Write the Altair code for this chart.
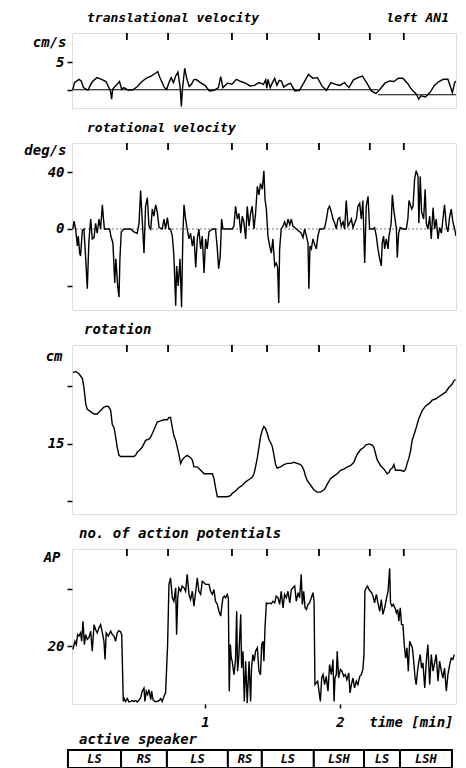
import altair as alt
import pandas as pd

FONT = "DejaVu Sans Mono"
W = 384
XDOM = [0.015, 2.86]  # minutes

# ---- data (time in seconds) ----
change_s = [25.3, 43.6, 72.0, 87.6, 110.7, 133.3, 148.4]

speaker_start = [-0.9, 22.7, 43.1, 70.2, 85.3, 108.4, 130.7, 146.7]
speaker_end = [22.7, 43.1, 70.2, 85.3, 108.4, 130.7, 146.7, 169.8]
speaker_label = ["LS", "RS", "LS", "RS", "LS", "LSH", "LS", "LSH"]

trans_time = [1.3, 2, 4, 5, 6, 8, 9, 10, 12, 14, 16, 18, 18.5, 19, 20, 21, 22, 23, 24, 26, 28, 30, 32, 34, 36, 38, 39, 40,
              42, 43, 44, 45, 46, 47, 48, 49, 49.5, 50, 51, 52, 53, 54, 55, 56, 58, 60, 62, 64, 66, 67, 68, 70, 72, 74,
              76, 78, 80, 82, 84, 86, 87, 87.5, 88, 89, 90, 91, 92, 93, 94, 95, 96, 98, 100, 102, 104, 106, 108, 110,
              112, 114, 116, 118, 120, 122, 124, 126, 128, 130, 132, 134, 136, 138, 140, 142, 144, 146, 148, 150, 152,
              154, 155, 156, 158, 160, 162, 164, 166, 168, 170, 171, 171.6]
trans_value = [0.1, 1.3, 1.9, 1.6, 0.4, -0.1, 0.8, 1.5, 2.2, 1.9, 1.5, -0.2, -1.7, 0.1, 0.6, 1.0, 1.5, 0.1, 0.4, -0.1,
               0.0, 0.6, 1.5, 2.1, 2.5, 3.0, 3.3, 2.2, 0.4, 0.1, 1.3, 2.2, 1.3, 2.5, 3.2, 0.4, -3.0, 0.1, 3.9, 1.9, 0.6,
               1.0, 1.8, 1.9, 1.3, 0.8, -0.2, -0.1, 0.4, 2.4, 0.4, 1.2, 1.0, 1.9, 1.5, 1.2, 0.7, 0.8, 1.3, 1.0, 1.8,
               0.3, 1.9, 0.4, 1.3, 2.1, 0.8, 1.7, 1.6, 0.5, 0.8, 1.2, -0.2, -0.1, 1.3, 2.8, 2.1, 2.2, 0.7, -0.1, 1.3,
               1.0, 0.8, 1.3, 0.4, 1.8, 2.2, 2.5, 1.2, -0.2, -0.7, 0.2, 1.2, 1.6, 1.5, 2.1, 2.1, 1.2, 0.0, -0.8, -1.7,
               -1.1, -1.3, -0.5, 0.8, 1.5, 1.9, 1.9, -0.5, 1.3, 1.6]
trans_base_start = [0.9, 137.0]
trans_base_end = [137.0, 171.6]
trans_base_value = [0.0, -0.9]

rotvel_time = [1.3, 1.8, 2.5, 3.3, 3.7, 4.3, 4.7, 5.5, 6.2, 7.0, 7.7, 8.4, 9.2, 9.9, 10.7, 11.4, 12.1, 12.9, 13.6, 14.4,
               14.8, 15.3, 16.6, 17.6, 18.2, 19.1, 19.9, 20.4, 21.2, 21.8, 22.2, 22.8, 24.0, 25.5, 27.0, 28.4, 29.9,
               30.7, 31.4, 32.1, 32.9, 33.6, 34.4, 35.1, 35.9, 36.6, 37.3, 38.1, 38.8, 39.6, 41.0, 41.8, 42.5, 43.3,
               44.0, 44.7, 45.5, 46.2, 47.0, 47.4, 48.1, 48.9, 49.6, 50.2, 50.7, 51.4, 52.1, 52.9, 53.6, 54.4, 55.1,
               55.9, 56.6, 57.3, 58.1, 58.8, 59.6, 60.3, 61.0, 61.8, 63.3, 64.7, 65.5, 66.1, 66.8, 67.4, 68.0, 69.9,
               72.1, 72.9, 73.6, 74.4, 75.1, 75.9, 76.6, 77.3, 78.1, 78.8, 79.6, 80.3, 81.0, 81.8, 82.5, 83.3, 84.0,
               84.7, 85.5, 86.2, 86.7, 87.3, 88.0, 88.8, 89.5, 90.2, 91.0, 91.7, 92.3, 92.8, 93.2, 93.9, 94.7, 95.4,
               96.2, 96.9, 97.7, 98.4, 99.1, 99.9, 100.6, 102.1, 102.8, 103.6, 104.3, 105.1, 105.8, 106.2, 106.7,
               107.3, 108.0, 108.8, 109.5, 110.2, 111.0, 112.5, 113.2, 114.0, 114.7, 115.4, 116.2, 116.9, 117.7,
               118.4, 119.1, 119.9, 120.6, 121.4, 122.1, 122.8, 123.6, 124.3, 125.1, 125.8, 126.5, 127.3, 128.0,
               128.8, 129.5, 130.2, 131.0, 131.7, 132.5, 133.2, 134.7, 135.4, 136.2, 136.9, 137.7, 138.4, 138.8,
               139.4, 139.9, 140.6, 141.4, 141.8, 142.4, 142.8, 143.3, 143.9, 144.5, 145.1, 145.5, 146.1, 146.8,
               148.0, 149.5, 150.2, 150.7, 151.3, 151.9, 152.5, 153.2, 153.9, 154.7, 155.1, 155.7, 156.3, 157.2,
               157.9, 158.4, 159.1, 159.9, 160.6, 161.4, 162.1, 162.8, 163.6, 164.3, 165.1, 165.8, 166.5, 167.3,
               168.0, 168.8, 169.5, 170.2, 171.0, 171.6]
rotvel_value = [0, 5.5, 0, -12, -5, -17, -19, -1, 0, -21, -42, -9, 7, -7, -6, 4, -3, 7, 0, 17,
                9, 0, 0, 0, -5, -10, -38, -21, -40, -48, -21, -2, 0, 0, 0, -2, -3,
                4, 27, 7, -17, 16, 22, 2, 0, 14, 9, 17, 12, 1, 0, 7, 0, 8,
                0, 0, -5, -19, -54, -26, -40, -21, -55, -3, 17, 7, 0, -7, -3, -12, -5,
                -27, -7, 0, -14, -5, -31, -7, -14, -2, 0, 0, -14, -28, -19, 7, 0, 0,
                0, 2, 16, 7, 11, -3, 9, 5, -7, 16, 2, 11, 16, 0, 11, 30, 24,
                32, 28, 41, 21, 14, -5, -12, -17, -7, -26, -24, -27, -52, -14, 0, 2, 5,
                1, 7, 3, 7, 2, 1, 0, -2, -3, -6, 0, -5, -10, -42, -12,
                -14, -7, -11, -14, -5, 0, 0, 1, 7, 14, 16, 12, 7, 4,
                0, 7, 8, 2, 5, 0, 20, 2, 4, 7, 1, 4, 7, 16,
                18, 7, 20, -24, 16, 23, 0, 0, 1, -5, -14, -21, -26, -10,
                -5, -14, -7, -14, -5, 0, 5, 24, 14, 7, 0, -20, -3, 1,
                0, 0, 7, 20, 17, 14, 16, 35, 41, 37, 4, 37, 12, 7,
                28, 4, 0, 9, -7, 15, 0, 7, -7, 1, -3, 7, 17, 2,
                -2, 9, 14, 5, 0, -5]

rot_time = [1.3, 2.5, 4.0, 5.5, 6.2, 7.0, 7.7, 9.2, 10.7, 12.1, 13.6, 15.1, 16.6, 17.3, 18.1, 18.8, 19.6, 20.3, 21.0,
            21.8, 22.5, 25.5, 28.4, 29.2, 29.9, 30.7, 32.1, 33.6, 35.1, 35.9, 37.3, 38.8, 40.3, 41.8, 43.3, 44.0,
            44.7, 45.5, 46.2, 47.0, 47.7, 48.4, 49.2, 49.9, 50.7, 52.1, 53.6, 54.4, 55.1, 56.6, 58.1, 59.6, 61.8,
            63.3, 64.0, 64.7, 65.5, 67.0, 69.9, 71.4, 72.1, 73.6, 75.1, 76.6, 78.1, 79.6, 81.0, 81.8, 82.5, 83.3,
            84.0, 84.7, 85.5, 86.2, 87.0, 87.7, 88.4, 89.2, 89.9, 90.7, 91.4, 92.1, 93.6, 95.1, 96.6, 98.1, 99.6,
            101.0, 102.5, 103.3, 104.0, 104.7, 105.5, 107.0, 108.4, 109.9, 111.4, 112.9, 113.6, 114.4, 115.9,
            117.3, 118.8, 120.3, 121.8, 123.3, 124.7, 126.2, 127.0, 127.7, 129.2, 129.9, 130.7, 131.4, 132.9,
            134.4, 135.1, 135.9, 136.6, 138.1, 139.6, 141.0, 141.8, 142.5, 143.3, 144.0, 144.7, 145.5, 147.0,
            148.4, 149.2, 149.9, 150.7, 151.4, 152.1, 153.6, 155.1, 156.6, 158.1, 159.6, 161.0, 162.5, 164.0,
            165.5, 167.0, 168.4, 169.9, 170.7, 171.4]
rot_value = [21.2, 21.3, 21.1, 20.7, 19.9, 18.5, 18.0, 17.8, 17.6, 17.6, 17.9, 18.2, 18.3, 18.2, 17.9, 16.7, 16.4,
             15.6, 14.7, 14.0, 13.9, 13.9, 13.9, 14.0, 14.3, 14.4, 14.7, 15.3, 15.4, 15.6, 16.2, 16.9, 17.0, 17.1,
             17.1, 17.3, 17.3, 16.4, 15.7, 15.3, 14.7, 14.1, 13.3, 13.6, 13.8, 14.0, 13.8, 13.6, 13.0, 13.0, 12.7,
             12.4, 12.4, 12.4, 12.0, 11.2, 10.4, 10.4, 10.4, 10.5, 10.7, 10.9, 11.2, 11.4, 11.7, 11.9, 12.1, 12.4,
             13.0, 13.8, 14.7, 15.6, 16.2, 16.5, 16.3, 15.9, 15.4, 15.1, 14.8, 14.0, 13.2, 12.9, 13.0, 13.2, 13.3,
             13.3, 13.4, 13.3, 13.2, 13.0, 12.7, 12.2, 11.8, 11.4, 11.0, 10.8, 10.8, 11.0, 11.2, 11.5, 12.0, 12.2,
             12.4, 12.7, 12.8, 13.0, 13.1, 13.4, 13.8, 14.1, 14.5, 14.6, 14.7, 14.9, 15.0, 14.9, 14.7, 14.1, 13.6,
             13.1, 12.8, 12.4, 12.5, 12.8, 12.9, 13.2, 12.7, 12.7, 12.7, 12.6, 12.8, 13.3, 13.8, 14.4, 15.3, 16.2,
             17.2, 17.9, 18.3, 18.5, 18.8, 18.9, 19.1, 19.3, 19.5, 19.9, 20.2, 20.5, 20.6]

ap_time = [1.3, 2.2, 2.8, 3.4, 4.0, 4.7, 5.2, 5.8, 6.4, 7.0, 7.7, 8.4, 9.2, 9.9, 10.7, 11.4, 12.1, 12.9, 13.6, 14.4,
           15.1, 15.6, 16.1, 17.0, 18.1, 18.8, 19.6, 20.3, 21.0, 21.8, 22.5, 23.0, 23.7, 24.0, 24.7, 25.5, 26.2,
           27.0, 27.7, 28.4, 29.2, 29.9, 30.7, 31.4, 32.1, 32.9, 33.3, 33.9, 34.5, 35.1, 35.9, 36.3, 36.9, 37.8,
           38.8, 39.6, 40.3, 41.0, 41.8, 42.5, 43.4, 44.0, 44.7, 45.5, 46.2, 47.0, 47.4, 47.9, 48.4, 49.2, 49.9,
           50.7, 51.4, 52.1, 52.9, 53.6, 54.4, 55.1, 55.9, 56.6, 57.3, 58.1, 58.8, 59.6, 60.3, 61.8, 62.5, 63.3,
           64.0, 64.7, 65.5, 66.2, 67.0, 67.4, 68.0, 68.6, 69.2, 69.9, 70.4, 70.8, 71.3, 71.7, 72.1, 72.9, 73.6,
           74.1, 74.5, 75.1, 75.9, 76.3, 76.9, 77.5, 78.1, 78.8, 79.6, 80.3, 80.7, 81.3, 81.9, 82.5, 83.3, 84.0,
           84.7, 85.2, 85.8, 86.2, 86.7, 87.3, 88.0, 88.8, 89.5, 90.2, 91.0, 91.7, 92.5, 93.2, 93.9, 94.7, 95.4,
           96.2, 96.9, 97.7, 98.4, 99.1, 99.9, 100.6, 101.4, 102.1, 102.8, 103.3, 103.9, 104.5, 105.1, 105.8,
           106.5, 107.3, 108.0, 108.5, 108.9, 109.5, 110.1, 110.7, 111.3, 111.9, 112.5, 113.2, 113.9, 114.7,
           115.4, 116.2, 116.9, 117.4, 117.8, 118.4, 118.8, 119.4, 120.2, 120.9, 121.7, 122.4, 123.1, 123.9,
           124.5, 125.1, 125.8, 126.5, 127.3, 128.0, 128.8, 129.5, 130.2, 130.7, 131.1, 131.7, 132.3, 132.9,
           133.5, 134.1, 134.7, 135.4, 136.2, 136.9, 137.7, 138.4, 139.1, 139.9, 140.6, 141.4, 142.1, 142.5,
           143.1, 143.7, 144.5, 145.1, 145.7, 146.2, 146.8, 147.4, 148.0, 148.6, 149.2, 149.8, 150.4, 151.0,
           151.6, 152.2, 152.8, 153.4, 153.9, 154.5, 155.1, 155.7, 156.3, 156.9, 157.7, 158.4, 159.1, 159.9,
           160.6, 161.4, 162.1, 162.8, 163.6, 164.3, 165.1, 165.8, 166.5, 167.3, 168.0, 168.8, 169.5, 170.2,
           170.8]
ap_value = [18.8, 21.7, 20.5, 24.0, 23.5, 24.6, 21.7, 28.7, 20.5, 24.0, 22.3, 22.9, 25.2, 18.2, 27.5, 25.8, 24.6,
            26.4, 27.5, 24.6, 21.7, 15.3, 24.6, 23.5, 25.2, 24.0, 23.5, 21.7, 24.6, 25.4, 25.0, 24.0, 0.6, 1.8,
            0.6, 1.6, 0.4, 0.6, 0.9, 0.6, 0.9, 0.4, 1.1, 1.8, 4.2, 5.3, 0.6, 4.2, 3.0, 4.7, 1.2, 4.2, 1.2, 0.6,
            0.6, 0.9, 1.6, 0.6, 2.4, 3.6, 20.5, 41.6, 43.9, 36.9, 35.7, 40.4, 24.0, 36.9, 40.4, 39.2, 41.0, 40.4,
            39.2, 45.1, 38.1, 36.3, 39.2, 34.0, 39.2, 43.9, 39.2, 38.1, 42.7, 42.2, 41.6, 41.6, 39.2, 38.1, 39.8,
            35.7, 34.6, 32.2, 30.5, 33.4, 36.9, 37.5, 36.9, 38.1, 36.9, 4.2, 20.5, 15.8, 14.7, 10.0, 15.3, 32.2,
            11.2, 17.0, 31.1, 12.3, 18.2, 0.6, 14.7, 0.0, 14.7, 0.6, 12.3, 17.0, 14.7, 18.2, 19.4, 11.2, 10.0,
            20.5, 21.7, 14.7, 26.4, 35.1, 34.8, 35.1, 34.8, 35.7, 35.1, 37.5, 36.9, 34.6, 39.2, 33.4, 38.1, 36.9,
            39.2, 35.1, 39.8, 40.4, 41.0, 35.7, 38.7, 36.9, 45.1, 34.6, 39.2, 33.4, 32.8, 34.6, 35.1, 36.9, 38.7,
            35.7, 6.5, 7.1, 7.7, 4.2, 0.6, 8.8, 10.0, 6.5, 9.4, 4.2, 13.5, 10.0, 15.3, 0.6, 8.8, 10.0, 18.2, 8.8,
            11.8, 11.2, 9.4, 10.0, 8.2, 10.6, 3.6, 6.5, 8.8, 5.3, 7.7, 6.5, 9.4, 10.0, 11.8, 17.0, 39.2, 40.4,
            41.0, 39.8, 39.2, 38.7, 37.5, 35.1, 38.1, 35.1, 32.2, 36.3, 31.1, 33.4, 36.3, 39.2, 47.2, 35.1, 34.0,
            34.6, 33.4, 31.6, 32.8, 28.7, 33.4, 27.5, 27.5, 20.5, 15.8, 19.4, 11.2, 21.7, 20.5, 19.4, 14.7, 8.8,
            6.5, 11.2, 14.7, 17.0, 12.3, 14.1, 5.3, 14.7, 20.5, 6.5, 17.0, 11.2, 14.1, 17.0, 7.7, 14.7, 11.2, 8.8,
            12.3, 4.2, 10.0, 13.5, 15.8, 15.3, 17.0]

# ---- helpers ----
def to_min(seq):
    return [s / 60.0 for s in seq]


def xenc(axis):
    return alt.X("t:Q", scale=alt.Scale(domain=XDOM, nice=False, zero=False), axis=axis)


def yaxis(values, keep, unit, ux, uy):
    cond = " || ".join(f"datum.value == {k}" for k in keep)
    return alt.Axis(values=values, labelExpr=f"({cond}) ? datum.label : ''", title=unit, titleAngle=0,
                    titleAlign="right", titleBaseline="alphabetic", titleX=ux, titleY=uy, titleFont=FONT,
                    titleFontStyle="italic", titleFontSize=14, titleFontWeight="bold", titleColor="black",
                    labelFont=FONT, labelFontStyle="italic", labelFontSize=14, labelColor="black",
                    labelFontWeight="bold", labelPadding=3, domain=False, grid=False, tickSize=5, tickWidth=1.5,
                    tickColor="black")


change_df = pd.DataFrame({"t": to_min(change_s)})
TXT = dict(font=FONT, fontStyle="italic", fontWeight="bold", color="black", baseline="alphabetic")


def panel(times, values, ydom, yvals, keep, unit, ux, uy, title, tx, height, xaxis=None, extras=(), tsize=13,
          right_note=None):
    yenc = alt.Y("v:Q", scale=alt.Scale(domain=ydom, nice=False, zero=False), axis=yaxis(yvals, keep, unit, ux, uy))
    df = pd.DataFrame({"t": to_min(times), "v": values})
    layers = []
    for edf, style in extras:
        layers.append(alt.Chart(edf).mark_rule(clip=True, **style).encode(x=xenc(xaxis), x2="t2:Q", y=yenc))
    layers.append(alt.Chart(df).mark_line(color="black", strokeWidth=1.4, clip=True).encode(x=xenc(xaxis), y=yenc))
    layers.append(alt.Chart(change_df).mark_rule(color="black", strokeWidth=1.8).encode(
        x=xenc(xaxis), y=alt.value(0), y2=alt.value(7)))
    layers.append(alt.Chart(pd.DataFrame({"label": [title]})).mark_text(
        align="left", fontSize=tsize, **TXT).encode(x=alt.value(tx), y=alt.value(-11), text="label:N"))
    if right_note:
        layers.append(alt.Chart(pd.DataFrame({"label": [right_note]})).mark_text(
            align="right", fontSize=13, **TXT).encode(x=alt.value(W - 7), y=alt.value(-11), text="label:N"))
    return alt.layer(*layers).properties(width=W, height=height)


base_df = pd.DataFrame({"t": to_min(trans_base_start), "t2": to_min(trans_base_end), "v": trans_base_value})
zero_df = pd.DataFrame({"t": [XDOM[0]], "t2": [XDOM[1]], "v": [0]})

p1 = panel(trans_time, trans_value, [-3.3, 10.3], [0, 5], [5], "cm/s", -6, 13, "translational velocity", 15, 75,
           extras=[(base_df, {"color": "black", "strokeWidth": 1.1})], right_note="left AN1")
p2 = panel(rotvel_time, rotvel_value, [-57, 60.5], [-40, 0, 40], [0, 40], "deg/s", -6, 11, "rotational velocity",
           15, 167, extras=[(zero_df, {"color": "#777777", "strokeWidth": 1.2, "strokeDash": [2, 2]})])
p3 = panel(rot_time, rot_value, [8.9, 23.6], [10, 15, 20], [15], "cm", -10, 15, "rotation", 12, 169, tsize=14)

xaxis4 = alt.Axis(values=[1, 2], format="d", title="time [min]", titleAnchor="end", titleAlign="right",
                  titleBaseline="alphabetic", titleX=381, titleY=22, titleFont=FONT, titleFontStyle="italic",
                  titleFontSize=14, titleFontWeight="bold", titleColor="black", labelFont=FONT,
                  labelFontStyle="italic", labelFontSize=14, labelFontWeight="bold", labelColor="black",
                  labelBaseline="alphabetic", labelPadding=18, tickSize=4, tickWidth=1.5, tickColor="black",
                  domain=False, grid=False)
p4 = panel(ap_time, ap_value, [-0.3, 54], [20, 40], [20], "AP", -12, 12, "no. of action potentials", 7, 155,
           xaxis=xaxis4, tsize=14)

# speaker bar: plot area 29 px tall, bar fills the lower 18 px (y from 0 to 1 of a 0..1.61 scale)
bar_df = pd.DataFrame({"s": to_min(speaker_start), "e": to_min(speaker_end), "label": speaker_label,
                       "lo": [0] * 8, "hi": [1] * 8, "mid": [0.5] * 8})
bar_df["m"] = (bar_df["s"] + bar_df["e"]) / 2
xs = alt.Scale(domain=XDOM, nice=False, zero=False)
ys = alt.Scale(domain=[0, 1.61], nice=False, zero=False)
rects = alt.Chart(bar_df).mark_rect(fill="white", stroke="black", strokeWidth=2).encode(
    x=alt.X("s:Q", scale=xs, axis=None), x2="e:Q", y=alt.Y("lo:Q", scale=ys, axis=None), y2="hi:Q")
labels = alt.Chart(bar_df).mark_text(font=FONT, fontStyle="italic", fontWeight="bold", fontSize=12,
                                     color="black", baseline="middle").encode(
    x=alt.X("m:Q", scale=xs, axis=None), y=alt.Y("mid:Q", scale=ys, axis=None), text="label:N")
bar_title = alt.Chart(pd.DataFrame({"label": ["active speaker"]})).mark_text(
    align="left", fontSize=14, **TXT).encode(x=alt.value(7), y=alt.value(5), text="label:N")
bar = alt.layer(rects, labels, bar_title).properties(width=W, height=29,
                                                     view=alt.ViewBackground(stroke="transparent"))

chart = alt.vconcat(p1, p2, p3, p4, bar, spacing=35, bounds="flush").properties(
    padding={"left": 23, "top": 11, "right": 5, "bottom": 0}
).configure_view(stroke="black", strokeWidth=1.6).configure(background="white")

chart.save("out.html", embed_options={"renderer": "svg", "actions": False})
